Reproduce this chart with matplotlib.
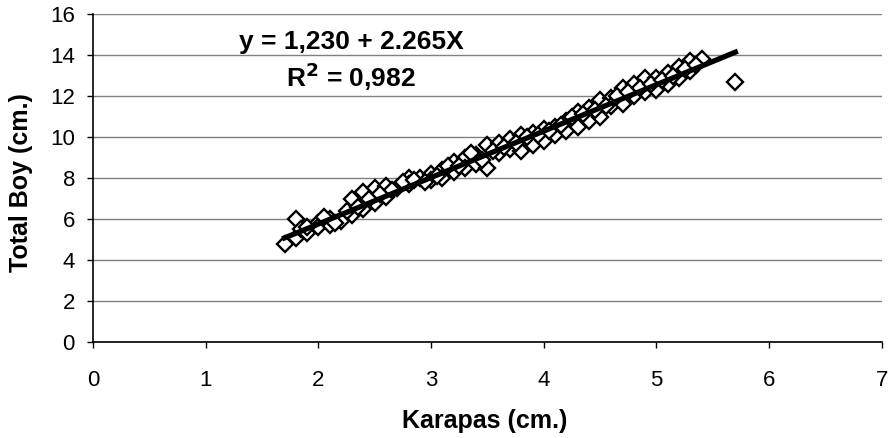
import matplotlib
matplotlib.use("Agg")
import matplotlib.pyplot as plt
import numpy as np

plt.rcParams['font.family'] = ['Liberation Sans', 'DejaVu Sans']

karapas = [1.7, 1.8, 1.8, 1.85, 1.9, 2.0, 2.0, 2.1, 2.1, 2.2, 2.3, 2.3, 2.4, 2.4,
           2.5, 2.5, 2.6, 2.6, 2.7, 2.8, 2.8, 2.9, 3.0, 3.0, 3.1, 3.1, 3.2, 3.2,
           3.3, 3.3, 3.4, 3.4, 3.5, 3.5, 3.6, 3.6, 3.7, 3.7, 3.8, 3.8, 3.9, 3.9,
           4.0, 4.0, 4.1, 4.1, 4.2, 4.2, 4.3, 4.3, 4.4, 4.4, 4.5, 4.5, 4.6, 4.6,
           4.7, 4.7, 4.8, 4.8, 4.9, 4.9, 5.0, 5.0, 5.1, 5.1, 5.2, 5.2, 5.3, 5.3,
           5.4, 5.7,
           1.9, 2.05, 2.15, 2.25, 2.35, 2.45, 2.55, 2.65, 2.75, 2.85, 2.95, 3.05,
           3.15, 3.25, 3.35, 3.45, 3.55, 3.65, 3.75, 3.85, 3.95, 4.05, 4.15, 4.25,
           4.35, 4.45, 4.55, 4.65, 4.75, 4.85, 4.95, 5.05, 5.15, 5.25, 5.35]
total_boy = [4.8, 6.0, 5.1, 5.5, 5.3, 5.8, 5.6, 6.0, 5.7, 5.9, 6.2, 7.0, 7.3, 6.5,
             7.5, 6.8, 7.6, 7.1, 7.5, 8.0, 7.7, 8.0, 8.2, 7.9, 8.4, 8.0, 8.8, 8.3,
             9.0, 8.5, 9.1, 8.7, 9.6, 8.5, 9.7, 9.2, 9.9, 9.4, 10.1, 9.3, 10.2, 9.6,
             10.4, 9.8, 10.5, 10.1, 10.8, 10.3, 11.2, 10.5, 11.4, 10.8, 11.8, 11.0, 11.9, 11.5,
             12.4, 11.6, 12.6, 12.0, 12.9, 12.2, 12.9, 12.3, 13.1, 12.6, 13.4, 12.9, 13.7, 13.2,
             13.8, 12.7,
             5.6, 6.1, 5.8, 6.4, 6.6, 7.0, 7.2, 7.4, 7.8, 7.9, 7.8, 8.1,
             8.6, 8.6, 9.2, 8.9, 9.3, 9.5, 9.7, 10.0, 10.1, 10.3, 10.6, 11.0,
             11.1, 11.3, 11.5, 12.0, 12.2, 12.4, 12.6, 12.8, 13.0, 13.3, 13.5]

intercept = 1.230
slope = 2.265
fit_x = [1.7, 5.7]
x_ticks = [0, 1, 2, 3, 4, 5, 6, 7]
y_ticks = [0, 2, 4, 6, 8, 10, 12, 14, 16]

fig = plt.figure(figsize=(8.89, 4.38), dpi=100)
ax = fig.add_axes([0.1046, 0.219, 0.8874, 0.749])

ax.plot(karapas, total_boy, linestyle='none', marker='D', markersize=8.5,
        markerfacecolor='white', markeredgecolor='black', markeredgewidth=1.7, zorder=3)
fx = np.array(fit_x)
ax.plot(fx, intercept + slope * fx, color='black', linewidth=3.8, zorder=4)

ax.set_xlim(0, 7)
ax.set_ylim(0, 16)
ax.set_xticks(x_ticks)
ax.set_yticks(y_ticks)
ax.yaxis.grid(True, color='#808080', linewidth=1)
ax.set_axisbelow(True)
for s in ['top', 'right']:
    ax.spines[s].set_visible(False)
for s in ['left', 'bottom']:
    ax.spines[s].set_color('black')
    ax.spines[s].set_linewidth(1.2)
ax.tick_params(axis='both', direction='out', length=4, width=1, labelsize=16)
ax.tick_params(axis='x', pad=16)
ax.tick_params(axis='y', pad=9)

ax.set_xlabel('Karapas (cm.)', fontsize=18, fontweight='bold')
ax.set_ylabel('Total Boy (cm.)', fontsize=18, fontweight='bold')
ax.xaxis.set_label_coords(0.497, -0.203)
ax.yaxis.set_label_coords(-0.076, 0.485)

ax.text(2.29, 14.63, 'y = 1,230 + 2.265X', ha='center', va='center',
        fontsize=19, fontweight='bold')
ax.text(2.29, 12.93, r'R$^{\mathbf{2}}$ = 0,982', ha='center', va='center',
        fontsize=19, fontweight='bold')

fig.savefig('out.png', dpi=100)
